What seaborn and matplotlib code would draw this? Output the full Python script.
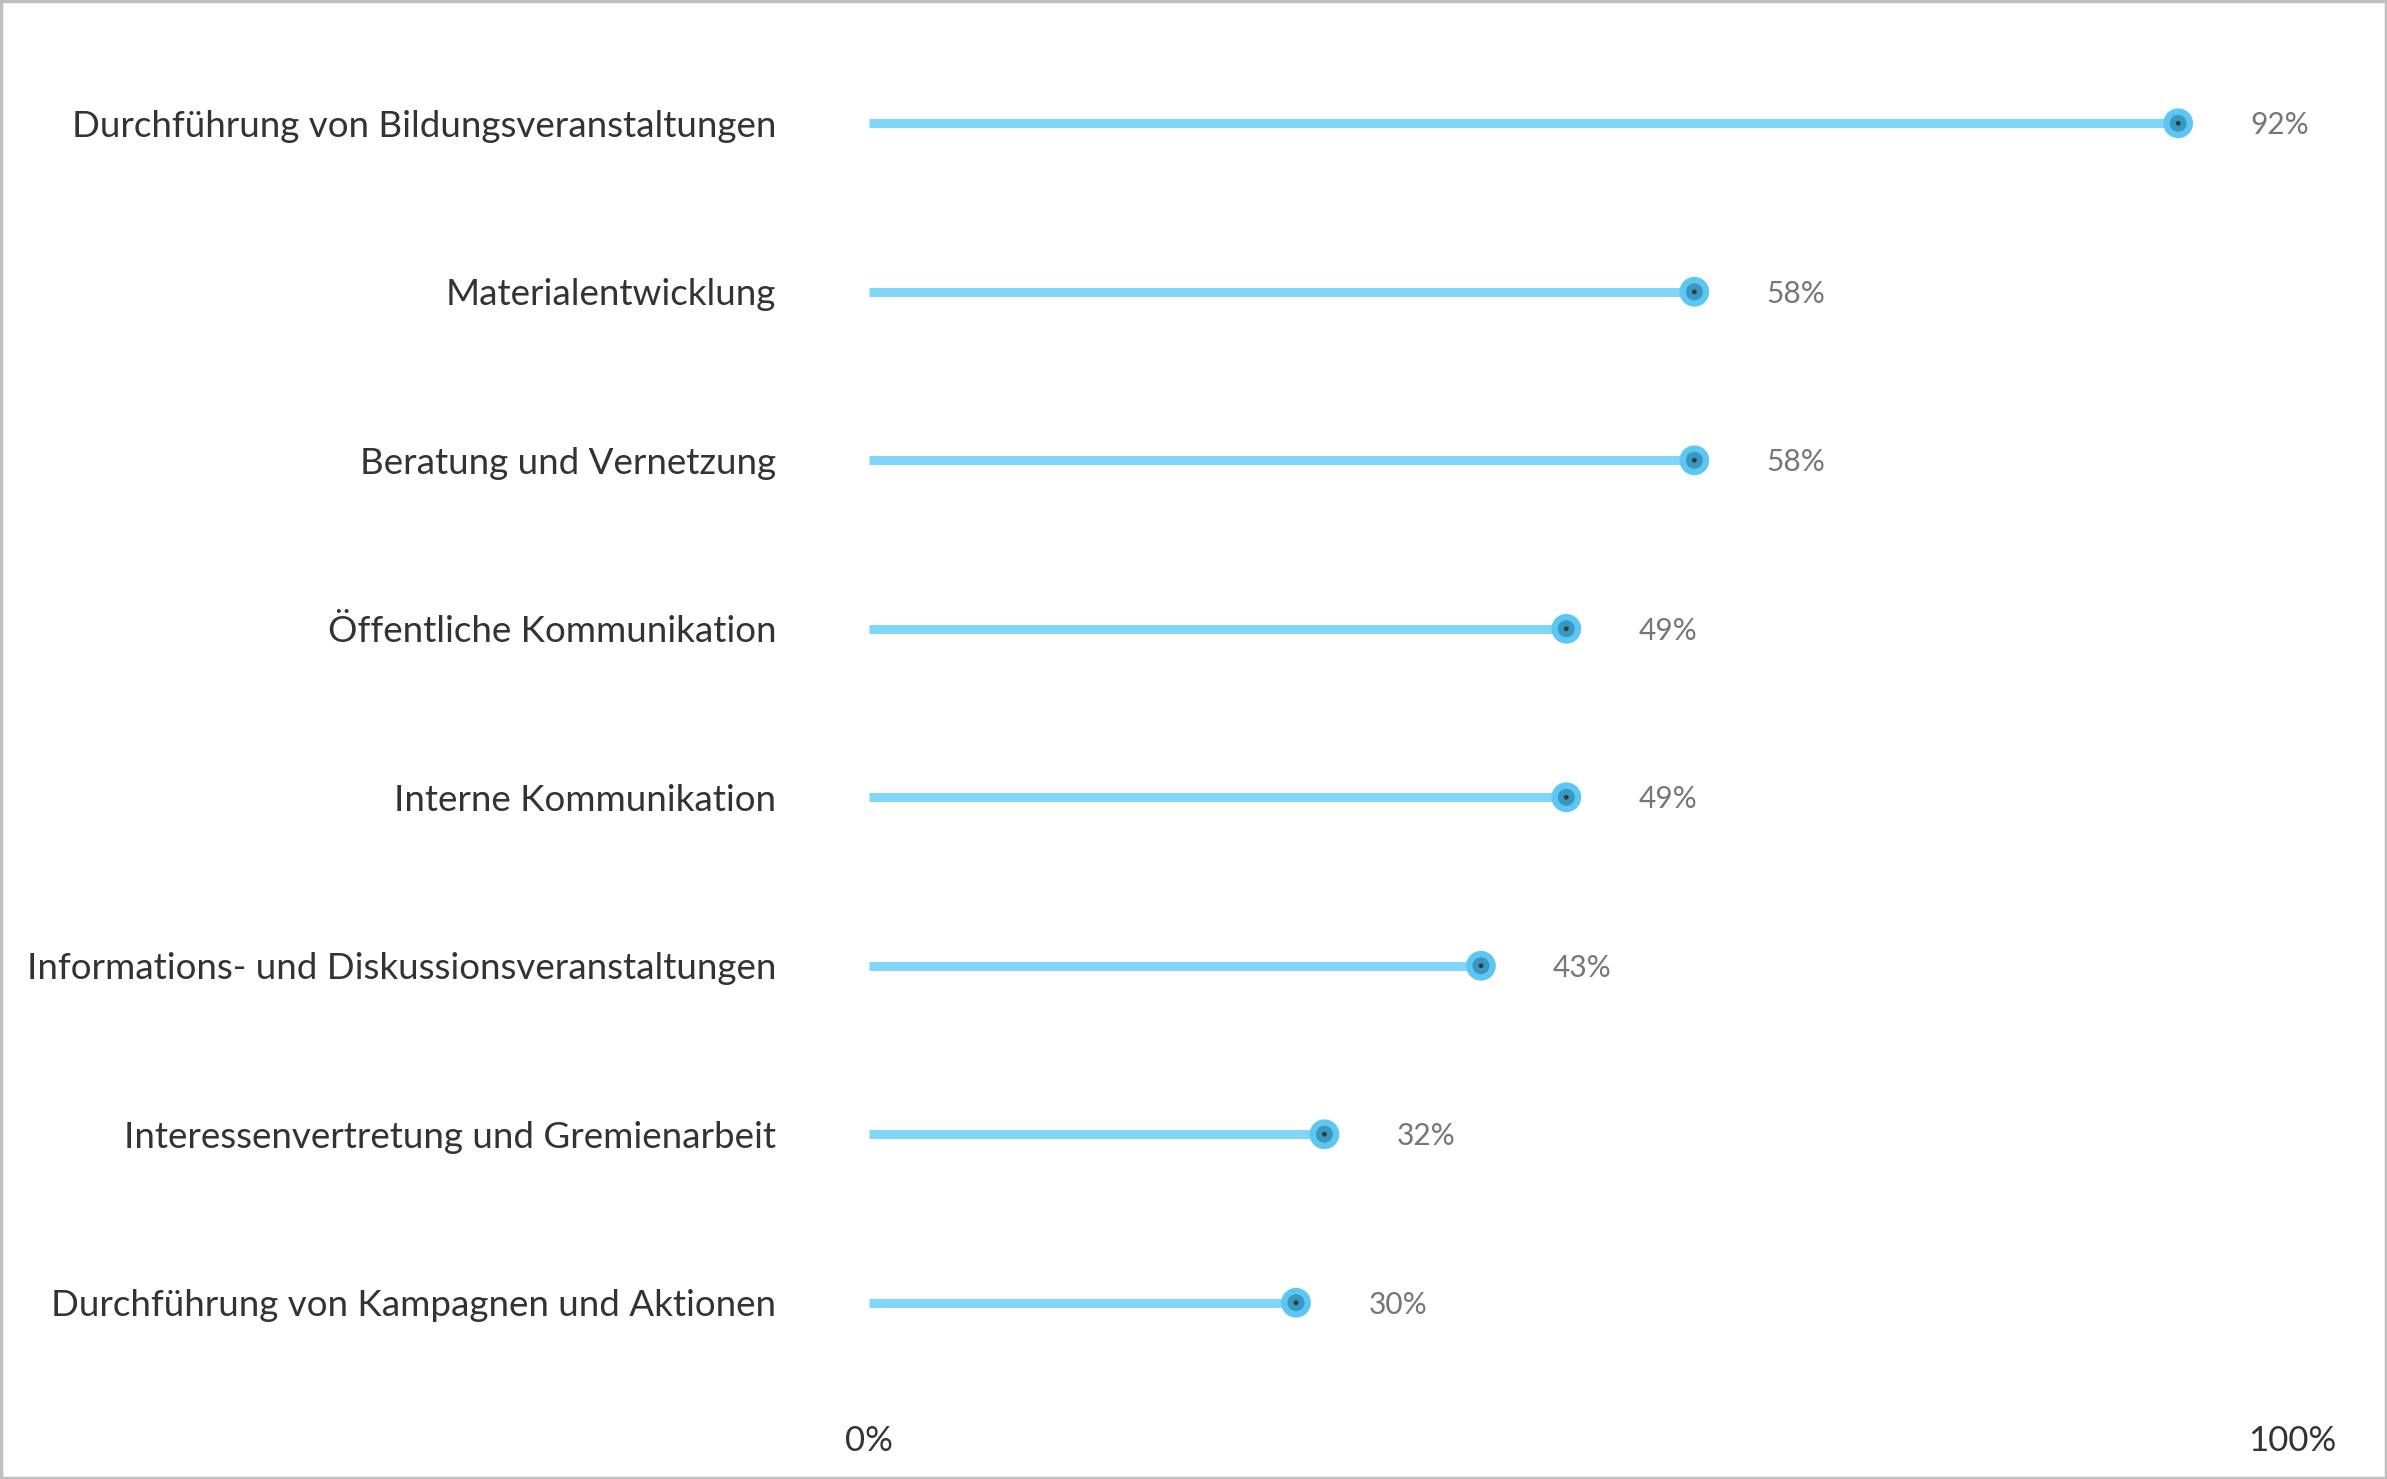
import pandas as pd
import matplotlib.pyplot as plt
import seaborn as sns

# data
categories = [
    "Durchführung von Bildungsveranstaltungen",
    "Materialentwicklung",
    "Beratung und Vernetzung",
    "Öffentliche Kommunikation",
    "Interne Kommunikation",
    "Informations- und Diskussionsveranstaltungen",
    "Interessenvertretung und Gremienarbeit",
    "Durchführung von Kampagnen und Aktionen",
]
values = [92, 58, 58, 49, 49, 43, 32, 30]
x_ticks = [0, 100]
x_tick_labels = ["0%", "100%"]

df = pd.DataFrame({"cat": categories, "val": values})
df["pos"] = range(len(df))

sns.set_theme(style="white")
plt.rcParams['font.family'] = ['Lato', 'DejaVu Sans']

fig = plt.figure(figsize=(23.87, 14.79), dpi=100)
ax = fig.add_axes([0.3641, 0.0622, 0.5961, 0.9114])

# stems
ax.hlines(df["pos"], 0, df["val"], color="#7FD6F8", linewidth=6.5, zorder=1)

# markers: outer ring, inner dot, centre
sns.scatterplot(data=df, x="val", y="pos", s=460, color="#5CC8F2", edgecolor="none", ax=ax, zorder=2, legend=False)
sns.scatterplot(data=df, x="val", y="pos", s=150, color="#3A98C0", edgecolor="none", ax=ax, zorder=3, legend=False)
sns.scatterplot(data=df, x="val", y="pos", s=12, color="#2E3B44", edgecolor="none", ax=ax, zorder=4, legend=False)

# value labels
for _, row in df.iterrows():
    ax.annotate(f"{row['val']}%", xy=(row["val"], row["pos"]), xytext=(52, -1.5),
                textcoords="offset points", ha="left", va="center",
                fontsize=21.5, color="#767676")

ax.set_xlim(0, 100)
ax.set_ylim(len(df) - 0.5, -0.5)
ax.set_yticks(df["pos"])
ax.set_yticklabels(df["cat"], fontsize=26.5, color="#333333")
ax.set_xticks(x_ticks)
ax.set_xticklabels(x_tick_labels, fontsize=25, color="#333333")
ax.tick_params(axis="y", length=0, pad=67)
ax.tick_params(axis="x", length=0, pad=27)
ax.set_xlabel("")
ax.set_ylabel("")
for sp in ax.spines.values():
    sp.set_visible(False)

# outer frame
fig.patches.append(plt.Rectangle((0.0005, 0.0008), 0.999, 0.9985, transform=fig.transFigure,
                                 fill=False, edgecolor="#BFBFBF", linewidth=2.5))

fig.savefig("out.png", dpi=100)
